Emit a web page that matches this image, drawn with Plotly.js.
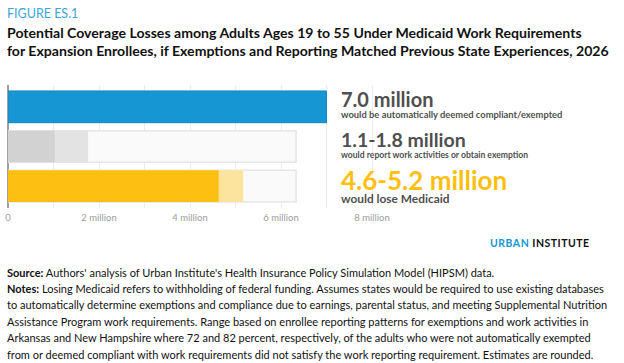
<!DOCTYPE html>
<html>
<head>
<meta charset="utf-8">
<script src="https://cdn.plot.ly/plotly-3.0.1.min.js"></script>
<style>
  html, body { margin: 0; padding: 0; background: #ffffff; }
  #chart { width: 624px; height: 363px; }
</style>
</head>
<body>
<div id="chart"></div>
<script>
// ---- Data ----
const categories = ["Deemed compliant/exempted", "Report work activities", "Lose Medicaid"];
const autoValues = [7.0, null, null];          // millions, automatically deemed compliant/exempted
const remainingTotal = [null, 6.33, 6.33];      // millions, not automatically exempted
const highValues = [null, 1.76, 5.17];          // upper end of range
const lowValues = [null, 1.03, 4.63];           // lower end of range
const tickValues = [0, 1, 2, 3, 4, 5, 6, 7, 8];
const tickLabels = ["0", "", "2 million", "", "4 million", "", "6 million", "", "8 million"];
const valueLabels = ["7.0 million", "1.1-1.8 million", "4.6-5.2 million"];
const descLabels = ["would be automatically deemed compliant/exempted",
                    "would report work activities or obtain exemption",
                    "would lose Medicaid"];
const noteLines = [
  "<b>Notes:</b> Losing Medicaid refers to withholding of federal funding. Assumes states would be required to use existing databases",
  "to automatically determine exemptions and compliance due to earnings, parental status, and meeting Supplemental Nutrition",
  "Assistance Program work requirements. Range based on enrollee reporting patterns for exemptions and work activities in",
  "Arkansas and New Hampshire where 72 and 82 percent, respectively, of the adults who were not automatically exempted",
  "from or deemed compliant with work requirements did not satisfy the work reporting requirement. Estimates are rounded."
];

// ---- Layout helpers (figure pixels -> paper fractions, margins are 0) ----
const W = 624, H = 363;
const px = v => v / W;
const py = v => 1 - v / H;

const FONT = "Lato, 'Open Sans', sans-serif";
const BLUE = "#1696d2", YELLOW = "#fdbf11", DARK = "#4f4f4f";

const barWidth = 0.8;
const traces = [
  { type: "bar", orientation: "h", y: categories, x: remainingTotal, width: barWidth,
    marker: { color: "#fafafa", line: { color: "#e6e6e6", width: 1.5 } }, hoverinfo: "skip" },
  { type: "bar", orientation: "h", y: categories, x: highValues, width: barWidth,
    marker: { color: ["#e3e3e3", "#e3e3e3", "#fce39e"], line: { width: 0 } }, hoverinfo: "skip" },
  { type: "bar", orientation: "h", y: categories, x: lowValues, width: barWidth,
    marker: { color: ["#d2d2d2", "#d2d2d2", YELLOW], line: { width: 0 } }, hoverinfo: "skip" },
  { type: "bar", orientation: "h", y: categories, x: autoValues, width: barWidth,
    marker: { color: BLUE, line: { color: "#1287c4", width: 1 } }, hoverinfo: "skip" }
];

const annotations = [
  { text: "FIGURE ES.1", x: px(5), y: py(13), font: { size: 12.5, color: "#3ea4d8", family: FONT } },
  { text: "<b>Potential Coverage Losses among Adults Ages 19 to 55 Under Medicaid Work Requirements</b>",
    x: px(5), y: py(32), font: { size: 14.1, color: "#111111", family: FONT } },
  { text: "<b>for Expansion Enrollees, if Exemptions and Reporting Matched Previous State Experiences, 2026</b>",
    x: px(5), y: py(50), font: { size: 14.1, color: "#111111", family: FONT } },

  { text: "<b>" + valueLabels[0] + "</b>", x: px(339), y: py(99.5), font: { size: 20, color: DARK, family: FONT } },
  { text: "<b>" + descLabels[0] + "</b>", x: px(339), y: py(114.8), font: { size: 9.4, color: DARK, family: FONT } },
  { text: "<b>" + valueLabels[1] + "</b>", x: px(339), y: py(139), font: { size: 19.5, color: DARK, family: FONT } },
  { text: "<b>" + descLabels[1] + "</b>", x: px(339), y: py(154.8), font: { size: 8.6, color: DARK, family: FONT } },
  { text: "<b>" + valueLabels[2] + "</b>", x: px(339), y: py(180), font: { size: 26, color: YELLOW, family: FONT } },
  { text: "<b>" + descLabels[2] + "</b>", x: px(339), y: py(198.3), font: { size: 11.9, color: DARK, family: FONT } },

  { text: "<b><span style='letter-spacing:0.5px'><span style='fill:#1696d2'>URBAN</span> INSTITUTE</span></b>",
    x: px(488), y: py(242.5), font: { size: 10.5, color: "#111111", family: FONT } },

  { text: "<b>Source:</b> Authors' analysis of Urban Institute's Health Insurance Policy Simulation Model (HIPSM) data.",
    x: px(5), y: py(272), font: { size: 11, color: "#111111", family: FONT } }
].concat(noteLines.map((t, i) => ({
    text: t, x: px(5), y: py(288.5 + i * 16.4), font: { size: 11, color: "#111111", family: FONT }
  })))
 .map(a => Object.assign({ xref: "paper", yref: "paper", xanchor: "left", yanchor: "middle",
                          showarrow: false, align: "left" }, a));

const pxPerMillion = 45.5;
const xMax = 8.1;
const layout = {
  width: W, height: H,
  margin: { l: 0, r: 0, t: 0, b: 0, pad: 0 },
  paper_bgcolor: "#ffffff", plot_bgcolor: "rgba(0,0,0,0)",
  showlegend: false,
  barmode: "overlay",
  font: { family: FONT },
  xaxis: {
    domain: [px(8), px(8 + xMax * pxPerMillion)],
    range: [0, xMax],
    tickvals: tickValues, ticktext: tickLabels,
    showgrid: true, gridcolor: "#ececec", gridwidth: 1,
    zeroline: true, zerolinecolor: "#a0a0a0", zerolinewidth: 1.5,
    showline: false, ticks: "",
    ticklabelstandoff: 2,
    tickfont: { size: 9.5, color: "#9d9d9d", family: FONT },
    fixedrange: true
  },
  yaxis: {
    domain: [py(208), py(85)],
    range: [2.55, -0.55],
    type: "category",
    showticklabels: false, showgrid: false, zeroline: false, showline: false, ticks: "",
    fixedrange: true
  },
  annotations: annotations
};

Plotly.newPlot("chart", traces, layout, { displayModeBar: false, staticPlot: true });
</script>
</body>
</html>
